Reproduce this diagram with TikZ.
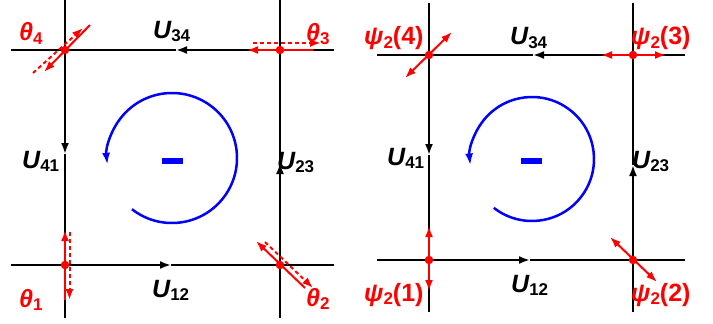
\documentclass[tikz,border=0pt]{standalone}
\usepackage{fontspec}
\setmainfont{Liberation Sans}
\usetikzlibrary{arrows.meta}
\definecolor{pred}{RGB}{255,0,0}
\definecolor{pblue}{RGB}{0,0,255}
\newcommand\mylab[3]{{\fontsize{25}{25}\selectfont\bfseries\itshape #1}\raisebox{-3pt}{\fontsize{17}{17}\selectfont\bfseries #2}{\fontsize{25}{25}\selectfont\bfseries #3}}
\begin{document}
\begin{tikzpicture}[x=1pt,y=-1pt,
  edge/.style={line width=2pt,black},
  midtip/.style={-{Latex[length=11pt,width=8pt]}},
  rline/.style={line width=2pt,pred},
  rdash/.style={line width=2pt,pred,dash pattern=on 4pt off 3pt},
  rtip/.style={-{Latex[length=11pt,width=8pt]}},
  rboth/.style={{Latex[length=11pt,width=8pt]}-{Latex[length=11pt,width=8pt]}},
  dot/.style={circle,fill=pred,inner sep=0pt,minimum size=8.5pt},
  lab/.style={anchor=base west,inner sep=0pt},
  rlab/.style={lab,text=pred},
  loop/.style={pblue,line width=2.5pt,-{Latex[length=12pt,width=8pt]}},
  minus/.style={fill=pblue,inner sep=0pt,minimum width=21pt,minimum height=6pt}]
\useasboundingbox (0,0) rectangle (713,324);

% ---------------- left panel ----------------
\coordinate (aTW) at (11,50);  \coordinate (aTE) at (334,50);  \coordinate (aTM) at (176,50);
\coordinate (aBW) at (11,265); \coordinate (aBE) at (334,265); \coordinate (aBM) at (171,265);
\coordinate (aLN) at (65,0);   \coordinate (aLS) at (65,318);  \coordinate (aLM) at (65,154);
\coordinate (aRN) at (280,0);  \coordinate (aRS) at (280,318); \coordinate (aRM) at (280,163);
\draw[edge,midtip] (aTE) -- (aTM); \draw[edge] (aTM) -- (aTW);
\draw[edge,midtip] (aBW) -- (aBM); \draw[edge] (aBM) -- (aBE);
\draw[edge,midtip] (aLN) -- (aLM); \draw[edge] (aLM) -- (aLS);
\draw[edge,midtip] (aRS) -- (aRM); \draw[edge] (aRM) -- (aRN);

% theta4
\coordinate (t4a) at (90,25); \coordinate (t4b) at (44,72);
\coordinate (t4c) at (33,73); \coordinate (t4d) at (83,28);
\draw[rline,rtip] (t4a) -- (t4b);
\draw[rdash,rtip] (t4c) -- (t4d);
% theta3
\coordinate (t3a) at (313,50); \coordinate (t3b) at (247,50);
\coordinate (t3c) at (253,43); \coordinate (t3d) at (321,43);
\draw[rline,rtip] (t3a) -- (t3b);
\draw[rdash,rtip] (t3c) -- (t3d);
% theta1
\coordinate (t1a) at (65,300); \coordinate (t1b) at (65,230);
\coordinate (t1c) at (69.5,232); \coordinate (t1d) at (69.5,300);
\draw[rline,rtip] (t1a) -- (t1b);
\draw[rdash,rtip] (t1c) -- (t1d);
% theta2
\coordinate (t2a) at (305,288); \coordinate (t2b) at (256,241);
\coordinate (t2c) at (265,242); \coordinate (t2d) at (313,288);
\draw[rline,rtip] (t2a) -- (t2b);
\draw[rdash,rtip] (t2c) -- (t2d);

\node[dot] (d4) at (65,50) {};
\node[dot] (d3) at (280,50) {};
\node[dot] (d1) at (65,265) {};
\node[dot] (d2) at (280,265) {};

\coordinate (cA) at (172,158);
\draw[loop] (cA) ++(128:65) arc[start angle=128,end angle=-186,radius=65];
\node[minus] (mA) at (172,161) {};

\node[lab] (u34a) at (153,38) {\mylab{U}{34}{}};
\node[lab] (u12a) at (152,297) {\mylab{U}{12}{}};
\node[lab] (u41a) at (22,168) {\mylab{U}{41}{}};
\node[lab] (u23a) at (277,169) {\mylab{U}{23}{}};
\node[rlab] (th4) at (19,41) {\mylab{θ}{4}{}};
\node[rlab] (th3) at (306,41.5) {\mylab{θ}{3}{}};
\node[rlab] (th1) at (19,307) {\mylab{θ}{1}{}};
\node[rlab] (th2) at (306,306) {\mylab{θ}{2}{}};

% ---------------- right panel ----------------
\coordinate (bTW) at (377,55);  \coordinate (bTE) at (685,55);  \coordinate (bTM) at (533,55);
\coordinate (bBW) at (377,260); \coordinate (bBE) at (685,260); \coordinate (bBM) at (530,260);
\coordinate (bLN) at (429,3);   \coordinate (bLS) at (429,312); \coordinate (bLM) at (429,155);
\coordinate (bRN) at (633,3);   \coordinate (bRS) at (633,312); \coordinate (bRM) at (633,165);
\draw[edge,midtip] (bTE) -- (bTM); \draw[edge] (bTM) -- (bTW);
\draw[edge,midtip] (bBW) -- (bBM); \draw[edge] (bBM) -- (bBE);
\draw[edge,midtip] (bLN) -- (bLM); \draw[edge] (bLM) -- (bLS);
\draw[edge,midtip] (bRS) -- (bRM); \draw[edge] (bRM) -- (bRN);

\coordinate (p4a) at (405,78);  \coordinate (p4b) at (452,32);
\coordinate (p3a) at (601,55);  \coordinate (p3b) at (666,55);
\coordinate (p1a) at (429,226); \coordinate (p1b) at (429,291);
\coordinate (p2a) at (610,237); \coordinate (p2b) at (657,282);
\draw[rline,rboth] (p4a) -- (p4b);
\draw[rline,rboth] (p3a) -- (p3b);
\draw[rline,rboth] (p1a) -- (p1b);
\draw[rline,rboth] (p2a) -- (p2b);

\node[dot] (e4) at (429,55) {};
\node[dot] (e3) at (633,55) {};
\node[dot] (e1) at (429,260) {};
\node[dot] (e2) at (633,260) {};

\coordinate (cB) at (532,159);
\draw[loop] (cB) ++(128:62) arc[start angle=128,end angle=-186,radius=62];
\node[minus] (mB) at (531,161) {};

\node[lab] (u34b) at (510,45) {\mylab{U}{34}{}};
\node[lab] (u12b) at (511,292) {\mylab{U}{12}{}};
\node[lab] (u41b) at (387,165) {\mylab{U}{41}{}};
\node[lab] (u23b) at (632,168) {\mylab{U}{23}{}};
\node[rlab] (ps4) at (364,45) {\mylab{ψ}{2}{(4)}};
\node[rlab] (ps3) at (631,45) {\mylab{ψ}{2}{(3)}};
\node[rlab] (ps1) at (364,301) {\mylab{ψ}{2}{(1)}};
\node[rlab] (ps2) at (631,301) {\mylab{ψ}{2}{(2)}};
\end{tikzpicture}
\end{document}
